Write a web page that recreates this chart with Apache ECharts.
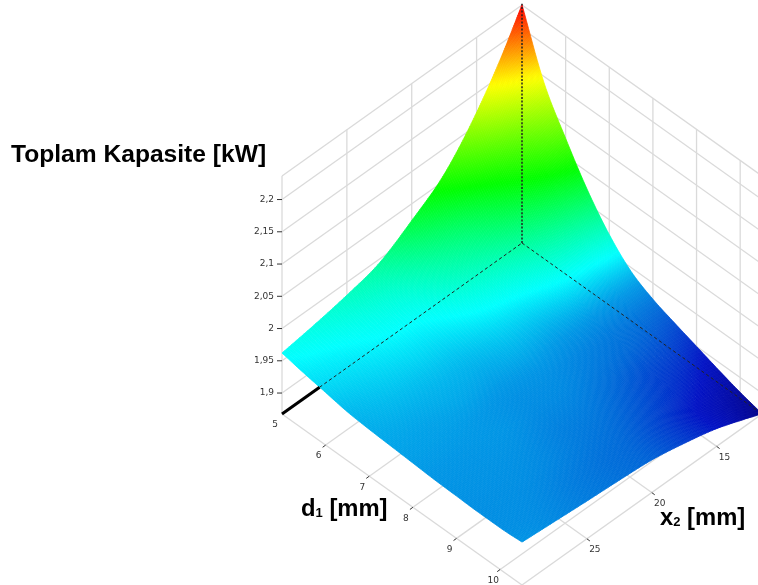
<!DOCTYPE html>
<html><head><meta charset="utf-8">
<style>html,body{margin:0;padding:0;background:#fff}#c{width:758px;height:585px;filter:blur(0.5px)}</style>
<script src="https://cdn.jsdelivr.net/npm/echarts@6/dist/echarts.min.js"></script>
</head><body><div id="c"></div>
<script>
// --- data ---
const d1Values = [5, 5.5, 6, 6.5, 7, 7.5, 8, 8.5, 9, 9.5, 10, 10.5];
const x2Values = [11.5, 13, 15, 17.5, 20, 22.5, 25, 27.5, 30];
const capAtX2_11_5 = [2.237, 2.141, 2.078, 2.022, 1.977, 1.944, 1.925, 1.912, 1.900, 1.888, 1.877, 1.868];
const capAtX2_13   = [2.182, 2.104, 2.052, 2.006, 1.969, 1.942, 1.926, 1.916, 1.906, 1.896, 1.886, 1.880];
const capAtX2_15   = [2.120, 2.062, 2.023, 1.989, 1.962, 1.941, 1.927, 1.920, 1.911, 1.904, 1.896, 1.895];
const capAtX2_17_5 = [2.060, 2.021, 1.995, 1.972, 1.953, 1.939, 1.930, 1.925, 1.919, 1.914, 1.909, 1.908];
const capAtX2_20   = [2.024, 1.997, 1.978, 1.962, 1.949, 1.940, 1.933, 1.930, 1.926, 1.922, 1.919, 1.918];
const capAtX2_22_5 = [1.994, 1.976, 1.963, 1.953, 1.944, 1.938, 1.933, 1.931, 1.928, 1.926, 1.923, 1.9225];
const capAtX2_25   = [1.980, 1.967, 1.958, 1.950, 1.943, 1.939, 1.935, 1.934, 1.932, 1.930, 1.927, 1.926];
const capAtX2_27_5 = [1.970, 1.960, 1.953, 1.947, 1.942, 1.938, 1.936, 1.934, 1.933, 1.932, 1.931, 1.930];
const capAtX2_30   = [1.962, 1.955, 1.949, 1.943, 1.940, 1.938, 1.936, 1.934, 1.933, 1.932, 1.932, 1.934];
const capacityRows = [capAtX2_11_5, capAtX2_13, capAtX2_15, capAtX2_17_5, capAtX2_20, capAtX2_22_5, capAtX2_25, capAtX2_27_5, capAtX2_30];
const d1Ticks = [5, 6, 7, 8, 9, 10];
const x2Ticks = [15, 20, 25];
const zTicks = [1.9, 1.95, 2, 2.05, 2.1, 2.15, 2.2];
const zTickLabels = ['1,9', '1,95', '2', '2,05', '2,1', '2,15', '2,2'];
const colorStopValues = [1.868, 1.895, 1.920, 1.935, 1.960, 2.045, 2.148, 2.236];
const colorStopColors = ['#000088', '#0010c4', '#0068d8', '#0098e6', '#00ffff', '#00ff00', '#ffff00', '#ff0000'];

// --- view: oblique projection of the plot box onto the chart plane ---
const d1Min = 5, d1Max = 10.5, x2Min = 11.5, x2Max = 30, zMin = 1.8675, zMax = 2.2365;
const view = {ox: 282, oy: 414, ex: 240, ey: 171, zs: 645};
function project(d1, x2, z) {
  const u = (d1 - d1Min) / (d1Max - d1Min), v = (x2Max - x2) / (x2Max - x2Min);
  return [view.ox + view.ex * (u + v), view.oy + view.ey * (u - v) - view.zs * (z - zMin)];
}
function colorOf(z) {
  const s = colorStopValues, n = s.length - 1;
  if (z <= s[0]) return colorStopColors[0];
  if (z >= s[n]) return colorStopColors[n];
  let i = 0; while (z > s[i + 1]) i++;
  return echarts.color.lerp((z - s[i]) / (s[i + 1] - s[i]), [colorStopColors[i], colorStopColors[i + 1]]);
}

// --- box lines ---
const GRID = {stroke: '#dadada', lineWidth: 1.3};
const TICK = {stroke: '#333', lineWidth: 1};
const gridSegs = [];
function seg(a, b, st) { gridSegs.push([a, b, st]); }
zTicks.concat([zMax]).forEach(z => {
  seg([d1Min, x2Max, z], [d1Min, x2Min, z], GRID);
  seg([d1Min, x2Min, z], [d1Max, x2Min, z], GRID);
});
x2Ticks.concat([x2Max]).forEach(x => seg([d1Min, x, zMin], [d1Min, x, zMax], GRID));
d1Ticks.slice(1).concat([d1Max]).forEach(d => seg([d, x2Min, zMin], [d, x2Min, zMax], GRID));
d1Ticks.slice(1).forEach(d => seg([d, x2Max, zMin], [d, x2Min, zMin], GRID));
x2Ticks.forEach(x => seg([d1Min, x, zMin], [d1Max, x, zMin], GRID));
seg([d1Min, x2Max, zMin], [d1Max, x2Max, zMin], GRID);
seg([d1Max, x2Max, zMin], [d1Max, x2Min, zMin], GRID);

// --- surface shading: smooth cubic between the table's knots ---
function slopes(xs, ys) {
  const n = xs.length, h = [], d = [], m = new Array(n);
  for (let i = 0; i < n - 1; i++) { h[i] = xs[i + 1] - xs[i]; d[i] = (ys[i + 1] - ys[i]) / h[i]; }
  m[0] = d[0]; m[n - 1] = d[n - 2];
  for (let i = 1; i < n - 1; i++) {
    m[i] = d[i - 1] * d[i] <= 0 ? 0 : (h[i - 1] * d[i] + h[i] * d[i - 1]) / (h[i - 1] + h[i]);
  }
  return m;
}
function cubicAt(xs, ys, m, i, t) {
  const h = xs[i + 1] - xs[i], t2 = t * t, t3 = t2 * t;
  return (2 * t3 - 3 * t2 + 1) * ys[i] + (t3 - 2 * t2 + t) * h * m[i] + (-2 * t3 + 3 * t2) * ys[i + 1] + (t3 - t2) * h * m[i + 1];
}
const SUB_D = 10, SUB_X = 24;
const rowSlopes = capacityRows.map(r => slopes(d1Values, r));
const nU = (d1Values.length - 1) * SUB_D + 1, nV = (x2Values.length - 1) * SUB_X + 1;
const denseZ = [];
for (let a = 0; a < nU; a++) {
  const i = Math.min(Math.floor(a / SUB_D), d1Values.length - 2), t = a / SUB_D - i;
  const col = capacityRows.map((r, k) => cubicAt(d1Values, r, rowSlopes[k], i, t));
  const mc = slopes(x2Values, col);
  denseZ[a] = [];
  for (let b = 0; b < nV; b++) {
    const j = Math.min(Math.floor(b / SUB_X), x2Values.length - 2);
    denseZ[a][b] = cubicAt(x2Values, col, mc, j, b / SUB_X - j);
  }
}
const d1At = a => { const i = Math.min(Math.floor(a / SUB_D), d1Values.length - 2); return d1Values[i] + (d1Values[i + 1] - d1Values[i]) * (a / SUB_D - i); };
const x2At = b => { const j = Math.min(Math.floor(b / SUB_X), x2Values.length - 2); return x2Values[j] + (x2Values[j + 1] - x2Values[j]) * (b / SUB_X - j); };

// one element per band of constant x2, filled with a gradient following the capacity along d1
const strips = [];
for (let j = 0; j < x2Values.length - 1; j++) strips.push([j, 0]);
function renderStrip(params, api) {
  const j = strips[params.dataIndex][0];
  const children = [];
  for (let q = 0; q < SUB_X; q++) {
    const b = j * SUB_X + q;
    const top = [], bot = [], mid = [], zs = [];
    for (let a = 0; a < nU; a++) {
      top.push(api.coord(project(d1At(a), x2At(b), denseZ[a][b])));
      bot.push(api.coord(project(d1At(a), x2At(b + 1), denseZ[a][b + 1])));
      mid.push([(top[a][0] + bot[a][0]) / 2, (top[a][1] + bot[a][1]) / 2]);
      zs.push((denseZ[a][b] + denseZ[a][b + 1]) / 2);
    }
    const s = mid[0], e = mid[nU - 1], dx = e[0] - s[0], dy = e[1] - s[1], len2 = dx * dx + dy * dy;
    let last = 0;
    const stops = mid.map((m, a) => {
      last = Math.max(last, Math.min(1, ((m[0] - s[0]) * dx + (m[1] - s[1]) * dy) / len2));
      return {offset: last, color: colorOf(zs[a])};
    });
    const grad = {type: 'linear', x: s[0], y: s[1], x2: e[0], y2: e[1], global: true, colorStops: stops};
    children.push({type: 'polygon', silent: true, shape: {points: top.concat(bot.slice().reverse())}, style: {fill: grad, stroke: grad, lineWidth: 0.8}});
  }
  return {type: 'group', children};
}

// --- black box edges drawn over the surface ---
const x2SurfaceEntry = 27.1;
const overSegs = [
  [[d1Min, x2Max, zMin], [d1Min, x2SurfaceEntry, zMin], {stroke: '#000', lineWidth: 3}],
  [[d1Min, x2SurfaceEntry, zMin], [d1Min, x2Min, zMin], {stroke: '#222', lineWidth: 1, lineDash: [3.2, 2.6]}],
  [[d1Min, x2Min, zMin], [d1Max, x2Min, zMin], {stroke: '#222', lineWidth: 1, lineDash: [3.2, 2.6]}],
  [[d1Min, x2Min, zMin], [d1Min, x2Min, zMax + 0.002], {stroke: '#222', lineWidth: 1.5, lineDash: [2, 1.6]}]
];
zTicks.forEach(z => overSegs.push([[d1Min, x2Max, z], null, TICK, [-5, 0]]));
d1Ticks.slice(1).forEach(d => overSegs.push([[d, x2Max, zMin], null, TICK, [-3, 2.2]]));
x2Ticks.forEach(x => overSegs.push([[d1Max, x, zMin], null, TICK, [3, 2.2]]));

function renderSeg(list) {
  return function (params, api) {
    const s = list[params.dataIndex];
    const a = api.coord(project.apply(null, s[0]));
    const b = s[1] ? api.coord(project.apply(null, s[1])) : [a[0] + s[3][0], a[1] + s[3][1]];
    return {type: 'line', shape: {x1: a[0], y1: a[1], x2: b[0], y2: b[1]}, style: Object.assign({fill: null}, s[2]), silent: true};
  };
}

// --- tick labels ---
const labels = [];
const LABEL_FONT = 'DejaVu Sans';
zTicks.forEach((z, k) => labels.push([[d1Min, x2Max, z], zTickLabels[k], -8, 0, 'right']));
d1Ticks.forEach(d => labels.push([[d, x2Max, zMin], String(d), -7, 11, 'center']));
x2Ticks.forEach(x => labels.push([[d1Max, x, zMin], String(x), 8, 11, 'center']));
function renderLabel(params, api) {
  const l = labels[params.dataIndex], p = api.coord(project.apply(null, l[0]));
  return {type: 'text', x: p[0] + l[2], y: p[1] + l[3], silent: true,
    style: {text: l[1], fill: '#333', fontFamily: LABEL_FONT, fontSize: 9, align: l[4], verticalAlign: 'middle'}};
}

const richBold = {
  b: {fontFamily: 'Liberation Sans', fontWeight: 'bold', fontSize: 23.8, fill: '#000'},
  s: {fontFamily: 'Liberation Sans', fontWeight: 'bold', fontSize: 13, fill: '#000', padding: [8, 0, 0, 0]}
};
const chart = echarts.init(document.getElementById('c'), null, {renderer: 'canvas'});
chart.setOption({
  animation: false,
  backgroundColor: '#fff',
  grid: {left: 0, right: 0, top: 0, bottom: 0},
  xAxis: {type: 'value', min: 0, max: 758, show: false},
  yAxis: {type: 'value', min: 0, max: 585, inverse: true, show: false},
  graphic: [
    {type: 'text', left: 11, top: 143, silent: true, style: {text: 'Toplam Kapasite [kW]', fontFamily: 'Liberation Sans', fontWeight: 'bold', fontSize: 24.6, fill: '#000'}},
    {type: 'text', left: 301, top: 497, silent: true, style: {text: '{b|d}{s|1}{b| [mm]}', rich: richBold}},
    {type: 'text', left: 660, top: 506, silent: true, style: {text: '{b|x}{s|2}{b| [mm]}', rich: richBold}}
  ],
  series: [
    {type: 'custom', coordinateSystem: 'cartesian2d', z: 1, silent: true, data: gridSegs.map((_, i) => [i, 0]), renderItem: renderSeg(gridSegs)},
    {type: 'custom', coordinateSystem: 'cartesian2d', z: 2, silent: true, data: strips, renderItem: renderStrip},
    {type: 'custom', coordinateSystem: 'cartesian2d', z: 3, silent: true, data: overSegs.map((_, i) => [i, 0]), renderItem: renderSeg(overSegs)},
    {type: 'custom', coordinateSystem: 'cartesian2d', z: 4, silent: true, data: labels.map((_, i) => [i, 0]), renderItem: renderLabel}
  ]
});
</script></body></html>
